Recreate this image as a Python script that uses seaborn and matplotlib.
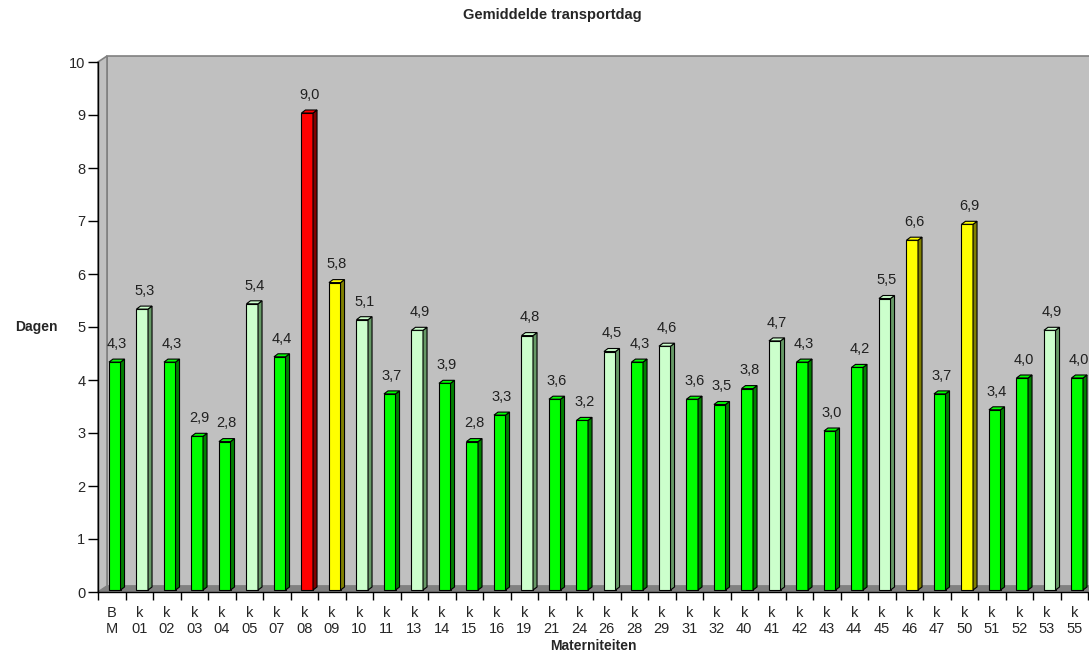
import matplotlib
matplotlib.use('Agg')
import matplotlib.pyplot as plt
from matplotlib.patches import Polygon
from matplotlib.ticker import FixedLocator
import seaborn as sns
import numpy as np

# data
materniteiten = ['B\nM', 'k\n01', 'k\n02', 'k\n03', 'k\n04', 'k\n05', 'k\n07', 'k\n08', 'k\n09',
                 'k\n10', 'k\n11', 'k\n13', 'k\n14', 'k\n15', 'k\n16', 'k\n19', 'k\n21', 'k\n24',
                 'k\n26', 'k\n28', 'k\n29', 'k\n31', 'k\n32', 'k\n40', 'k\n41', 'k\n42', 'k\n43',
                 'k\n44', 'k\n45', 'k\n46', 'k\n47', 'k\n50', 'k\n51', 'k\n52', 'k\n53', 'k\n55']
dagen = [4.3, 5.3, 4.3, 2.9, 2.8, 5.4, 4.4, 9.0, 5.8, 5.1, 3.7, 4.9, 3.9, 2.8, 3.3, 4.8, 3.6, 3.2,
         4.5, 4.3, 4.6, 3.6, 3.5, 3.8, 4.7, 4.3, 3.0, 4.2, 5.5, 6.6, 3.7, 6.9, 3.4, 4.0, 4.9, 4.0]
# colour group per bar: g = green, l = light green, y = yellow, r = red
groep = ['g', 'l', 'g', 'g', 'g', 'l', 'g', 'r', 'y', 'l', 'g', 'l', 'g', 'g', 'g', 'l', 'g', 'g',
         'l', 'g', 'l', 'g', 'g', 'g', 'l', 'g', 'g', 'g', 'l', 'y', 'g', 'y', 'g', 'g', 'l', 'g']
y_ticks = list(range(0, 11))

front_kleur = {'g': '#00FF00', 'l': '#CCFFCC', 'y': '#FFFF00', 'r': '#FF0000'}
zij_kleur = {'g': '#008000', 'l': '#669966', 'y': '#808000', 'r': '#800000'}

sns.set_style('white')
plt.rcParams['font.family'] = ['Liberation Sans', 'DejaVu Sans']

W, H = 1089, 655
fig = plt.figure(figsize=(W / 100, H / 100), dpi=100)
ax_l, ax_r, ax_t, ax_b = 98, 1088, 62, 592
ax = fig.add_axes([ax_l / W, (H - ax_b) / H, (ax_r - ax_l) / W, (ax_b - ax_t) / H])

n = len(materniteiten)
ax.set_xlim(-0.5, n - 0.5)
ax.set_ylim(0, 10)
px_x = (ax_r - ax_l) / n        # pixels per category
px_y = (ax_b - ax_t) / 10.0     # pixels per day

# 3d back wall, side wall and floor
wdx, wdy = 9 / px_x, 6 / px_y
x0, x1 = -0.5, n - 0.5
wall = Polygon([(x0 + wdx, wdy), (x1 + wdx, wdy), (x1 + wdx, 10 + wdy), (x0 + wdx, 10 + wdy)],
               closed=True, facecolor='#C0C0C0', edgecolor='#808080', lw=1.2, zorder=0, clip_on=False)
side = Polygon([(x0, 0), (x0, 10), (x0 + wdx, 10 + wdy), (x0 + wdx, wdy)],
               closed=True, facecolor='#C0C0C0', edgecolor='#808080', lw=1.2, zorder=0.5, clip_on=False)
floor = Polygon([(x0, 0), (x1, 0), (x1 + wdx, wdy), (x0 + wdx, wdy)],
                closed=True, facecolor='#808080', edgecolor='#808080', lw=0.5, zorder=0.6, clip_on=False)
for p in (wall, side, floor):
    ax.add_patch(p)

kleuren = [front_kleur[g] for g in groep]
sns.barplot(x=materniteiten, y=dagen, hue=materniteiten, palette=kleuren, legend=False,
            saturation=1, width=0.42, edgecolor='black', linewidth=0.8, ax=ax, zorder=2)

# shift bars into the middle of the depth and add side + top faces
sdx, sdy = 3 / px_x, 2 / px_y
ddx, ddy = 4 / px_x, 3 / px_y
for p in list(ax.patches):
    if p in (wall, side, floor):
        continue
    i = int(round(p.get_x() + p.get_width() / 2))
    p.set_x(p.get_x() + sdx)
    p.set_y(sdy)
    xa = p.get_x()
    xb = xa + p.get_width()
    top = sdy + p.get_height()
    zij = Polygon([(xb, sdy), (xb + ddx, sdy + ddy), (xb + ddx, top + ddy), (xb, top)],
                  closed=True, facecolor=zij_kleur[groep[i]], edgecolor='black', lw=0.8, zorder=2)
    dak = Polygon([(xa, top), (xb, top), (xb + ddx, top + ddy), (xa + ddx, top + ddy)],
                  closed=True, facecolor=front_kleur[groep[i]], edgecolor='black', lw=0.8, zorder=2)
    ax.add_patch(zij)
    ax.add_patch(dak)
    ax.annotate(f'{dagen[i]:.1f}'.replace('.', ','), xy=(i + sdx + ddx / 2, top + ddy),
                xytext=(0, 8), textcoords='offset points', ha='center', va='baseline',
                fontsize=10.5, color='#202020', zorder=3)

# axes styling
for s in ('top', 'right'):
    ax.spines[s].set_visible(False)
for s in ('left', 'bottom'):
    ax.spines[s].set_color('black')
    ax.spines[s].set_linewidth(1.0)
    ax.spines[s].set_zorder(3)

ax.set_yticks(y_ticks)
ax.tick_params(axis='y', length=7, width=1, color='black', labelsize=10.5, pad=2, left=True)
ax.set_xticks(np.arange(n))
ax.set_xticklabels(materniteiten, fontsize=10.5, linespacing=1.2)
ax.tick_params(axis='x', which='major', length=0, pad=10)
ax.xaxis.set_minor_locator(FixedLocator(np.arange(n + 1) - 0.5))
ax.tick_params(axis='x', which='minor', length=6, width=1, color='black', bottom=True)

ax.set_xlabel('Materniteiten', fontsize=10, fontweight='bold', labelpad=2)
ax.set_ylabel('Dagen', fontsize=10, fontweight='bold', rotation=0, ha='right', va='center')
ax.yaxis.set_label_coords((58 - ax_l) / (ax_r - ax_l), 0.5)
ax.set_facecolor('white')

fig.text(552 / W, 1 - 19 / H, 'Gemiddelde transportdag', ha='center', va='baseline',
         fontsize=10.5, fontweight='bold')

fig.savefig('out.png', dpi=100)
